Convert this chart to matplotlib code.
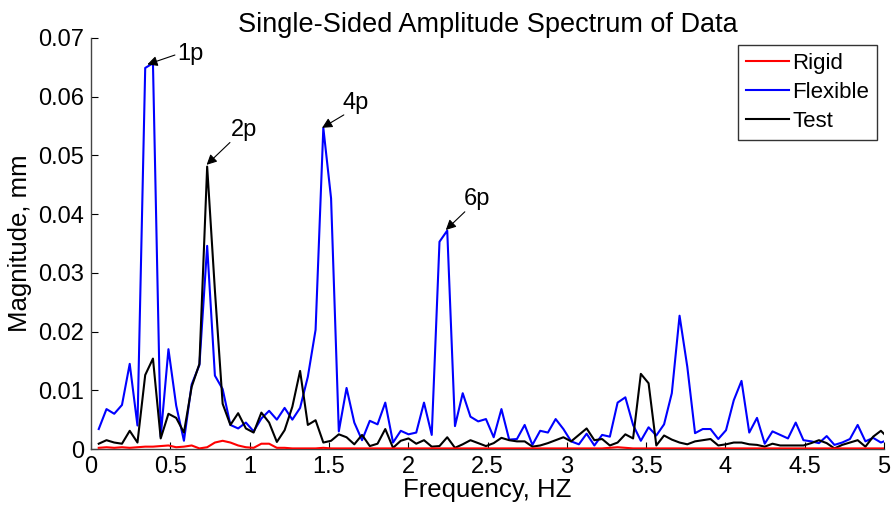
import numpy as np
import matplotlib
matplotlib.use("Agg")
import matplotlib.pyplot as plt

plt.rcParams['font.family'] = ['Liberation Sans', 'DejaVu Sans']

df = 100.0 / 2048.0
freq = np.arange(1, 104) * df

flexible = [0.0034, 0.0068, 0.0060, 0.0075, 0.0145, 0.0040, 0.0649, 0.0657, 0.0021, 0.0170,
            0.0074, 0.0014, 0.0110, 0.0143, 0.0346, 0.0125, 0.0102, 0.0041, 0.0035, 0.0045,
            0.0030, 0.0052, 0.0065, 0.0050, 0.0070, 0.0050, 0.0070, 0.0123, 0.0203, 0.0547,
            0.0427, 0.0030, 0.0104, 0.0045, 0.0015, 0.0048, 0.0042, 0.0079, 0.0011, 0.0031,
            0.0025, 0.0028, 0.0079, 0.0024, 0.0353, 0.0372, 0.0039, 0.0095, 0.0055, 0.0047,
            0.0051, 0.0020, 0.0068, 0.0016, 0.0017, 0.0041, 0.0007, 0.0031, 0.0028, 0.0051,
            0.0034, 0.0013, 0.0008, 0.0026, 0.0006, 0.0024, 0.0021, 0.0079, 0.0088, 0.0041,
            0.0014, 0.0037, 0.0023, 0.0042, 0.0095, 0.0227, 0.0140, 0.0027, 0.0034, 0.0034,
            0.0017, 0.0032, 0.0083, 0.0116, 0.0028, 0.0053, 0.0009, 0.0030, 0.0024, 0.0018,
            0.0045, 0.0015, 0.0013, 0.0010, 0.0022, 0.0007, 0.0011, 0.0017, 0.0041, 0.0013,
            0.0019, 0.0011, 0.0016]

test = [0.0009, 0.0015, 0.0011, 0.0009, 0.0031, 0.0011, 0.0126, 0.0154, 0.0018, 0.0060,
        0.0053, 0.0028, 0.0106, 0.0145, 0.0481, 0.0270, 0.0077, 0.0041, 0.0061, 0.0035,
        0.0028, 0.0062, 0.0045, 0.0012, 0.0032, 0.0072, 0.0133, 0.0041, 0.0049, 0.0011,
        0.0014, 0.0025, 0.0020, 0.0008, 0.0024, 0.0005, 0.0009, 0.0034, 0.0002, 0.0014,
        0.0018, 0.0009, 0.0015, 0.0004, 0.0005, 0.0020, 0.0002, 0.0008, 0.0015, 0.0010,
        0.0005, 0.0010, 0.0019, 0.0015, 0.0013, 0.0013, 0.0004, 0.0006, 0.0010, 0.0015,
        0.0020, 0.0013, 0.0024, 0.0035, 0.0015, 0.0017, 0.0006, 0.0011, 0.0025, 0.0018,
        0.0128, 0.0112, 0.0006, 0.0023, 0.0016, 0.0011, 0.0008, 0.0013, 0.0015, 0.0017,
        0.0006, 0.0008, 0.0011, 0.0011, 0.0008, 0.0007, 0.0004, 0.0009, 0.0006, 0.0006,
        0.0006, 0.0006, 0.0010, 0.0015, 0.0010, 0.0001, 0.0007, 0.0011, 0.0015, 0.0004,
        0.0021, 0.0031, 0.0018]

rigid = [0.0002, 0.0003, 0.0002, 0.0003, 0.0002, 0.0003, 0.0004, 0.0004, 0.0005, 0.0006,
         0.0003, 0.0004, 0.0006, 0.0001, 0.0003, 0.0011, 0.0014, 0.0011, 0.0006, 0.0003,
         0.0002, 0.0009, 0.0009, 0.0002, 0.0002, 0.0001, 0.0001, 0.0001, 0.0001, 0.0002,
         0.0001, 0.0001, 0.0001, 0.0001, 0.0001, 0.0001, 0.0001, 0.0001, 0.0001, 0.0001,
         0.0001, 0.0001, 0.0001, 0.0001, 0.0001, 0.0001, 0.0001, 0.0001, 0.0001, 0.0001,
         0.0001, 0.0001, 0.0001, 0.0001, 0.0001, 0.0001, 0.0001, 0.0001, 0.0001, 0.0001,
         0.0001, 0.0001, 0.0001, 0.0001, 0.0001, 0.0001, 0.0002, 0.0003, 0.0002, 0.0001,
         0.0001, 0.0001, 0.0001, 0.0001, 0.0001, 0.0001, 0.0001, 0.0001, 0.0001, 0.0001,
         0.0001, 0.0001, 0.0001, 0.0001, 0.0001, 0.0001, 0.0001, 0.0001, 0.0001, 0.0001,
         0.0001, 0.0001, 0.0001, 0.0001, 0.0001, 0.0001, 0.0001, 0.0001, 0.0001, 0.0001,
         0.0001, 0.0001, 0.0001]

xticks = [0, 0.5, 1, 1.5, 2, 2.5, 3, 3.5, 4, 4.5, 5]
xticklabels = ['0', '0.5', '1', '1.5', '2', '2.5', '3', '3.5', '4', '4.5', '5']
yticks = [0, 0.01, 0.02, 0.03, 0.04, 0.05, 0.06, 0.07]
yticklabels = ['0', '0.01', '0.02', '0.03', '0.04', '0.05', '0.06', '0.07']

# annotations: label, arrow head (x, y), arrow tail (x, y), text position (x, y)
ann_labels = ['1p', '2p', '4p', '6p']
ann_heads = [(0.355, 0.0655), (0.729, 0.0484), (1.457, 0.0547), (2.237, 0.0373)]
ann_tails = [(0.529, 0.0671), (0.876, 0.0522), (1.594, 0.0569), (2.357, 0.0404)]
ann_text = [(0.542, 0.0672), (0.882, 0.0544), (1.588, 0.0590), (2.350, 0.0426)]

fig = plt.figure(figsize=(8.91, 5.12), dpi=100)
ax = fig.add_axes([91/891, (512-449)/512, (884-91)/891, (449-38)/512])

ax.plot(freq, flexible, color='#0000ff', lw=1.5, label='Flexible', zorder=2)
ax.plot(freq, test, color='black', lw=1.5, label='Test', zorder=3)
ax.plot(freq, rigid, color='#ff0000', lw=1.5, label='Rigid', zorder=4)

ax.set_xlim(0, 5)
ax.set_ylim(0, 0.07)
ax.set_xticks(xticks)
ax.set_xticklabels(xticklabels)
ax.set_yticks(yticks)
ax.set_yticklabels(yticklabels)

for s in ['top', 'right']:
    ax.spines[s].set_visible(False)
for s in ['left', 'bottom']:
    ax.spines[s].set_color('#444444')
    ax.spines[s].set_linewidth(1.0)
ax.tick_params(direction='in', length=5, width=0.8, labelsize=17, colors='black', pad=5)

ax.set_xlabel('Frequency, HZ', fontsize=18.5, labelpad=0)
ax.set_ylabel('Magnitude, mm', fontsize=18.5, labelpad=4)
ax.set_title('Single-Sided Amplitude Spectrum of Data', fontsize=19.5, pad=2)

for lab, h, t, p in zip(ann_labels, ann_heads, ann_tails, ann_text):
    ax.annotate('', xy=h, xytext=t,
                arrowprops=dict(arrowstyle='-|>', color='black', lw=0.8,
                                mutation_scale=15, shrinkA=0, shrinkB=0))
    ax.text(p[0], p[1], lab, fontsize=17, ha='left', va='center')

handles, labels = ax.get_legend_handles_labels()
order = [2, 0, 1]
leg = ax.legend([handles[i] for i in order], [labels[i] for i in order],
                loc='upper right', fontsize=16, frameon=True, fancybox=False,
                edgecolor='black', handlelength=1.9, handletextpad=0.15,
                labelspacing=0.36, borderpad=0.36, borderaxespad=0.32)
leg.get_frame().set_linewidth(1.0)

fig.savefig('out.png', dpi=100)
